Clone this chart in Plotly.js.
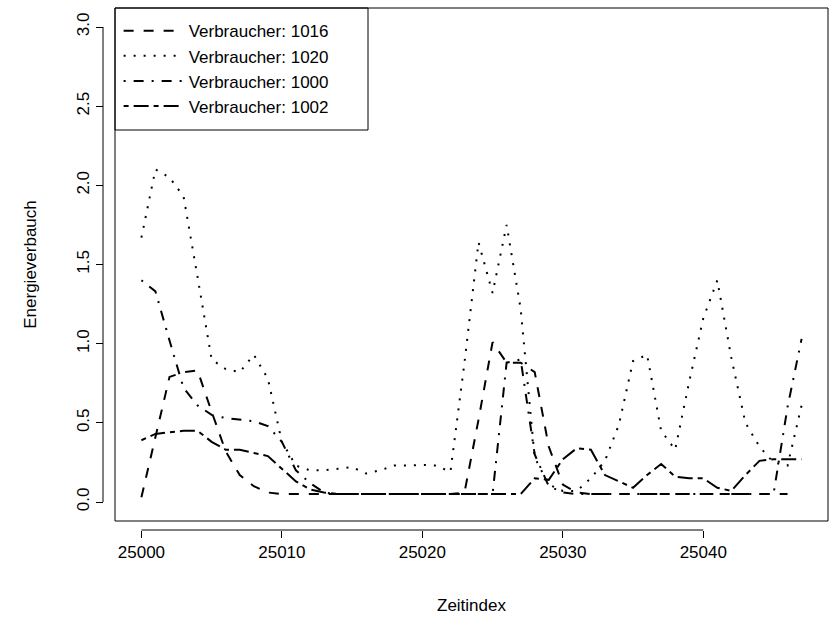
<!DOCTYPE html>
<html><head><meta charset="utf-8">
<script src="https://cdn.plot.ly/plotly-3.0.1.min.js"></script>
<style>html,body{margin:0;padding:0;background:#fff}</style>
</head><body><div id="chart" style="width:830px;height:622px"></div>
<script>
const zeitindex = [25000,25001,25002,25003,25004,25005,25006,25007,25008,25009,
  25010,25011,25012,25013,25014,25015,25016,25017,25018,25019,
  25020,25021,25022,25023,25024,25025,25026,25027,25028,25029,
  25030,25031,25032,25033,25034,25035,25036,25037,25038,25039,
  25040,25041,25042,25043,25044,25045,25046,25047];

const verbraucher1016 = [0.03,0.40,0.79,0.82,0.83,0.57,0.32,0.17,0.10,0.06,
  0.05,0.05,0.05,0.05,0.05,0.05,0.05,0.05,0.05,0.05,
  0.05,0.05,0.05,0.06,0.52,1.01,0.88,0.88,0.82,0.35,
  0.11,0.06,0.05,0.05,0.05,0.05,0.05,0.05,0.05,0.05,
  0.05,0.05,0.05,0.05,0.05,0.05,0.05,null];

const verbraucher1020 = [1.67,2.10,2.05,1.93,1.42,0.90,0.84,0.82,0.93,0.78,
  0.38,0.23,0.20,0.20,0.21,0.22,0.18,0.20,0.23,0.23,
  0.235,0.23,0.19,0.88,1.64,1.32,1.75,1.22,0.28,0.11,
  0.07,0.07,0.15,0.26,0.49,0.89,0.93,0.45,0.33,0.76,
  1.16,1.40,0.91,0.50,0.35,0.25,0.23,0.61];

const verbraucher1000 = [1.40,1.33,1.02,0.72,0.61,0.55,0.53,0.52,0.51,0.48,
  0.38,0.20,0.12,0.06,0.05,0.05,0.05,0.05,0.05,0.05,
  0.05,0.05,0.05,0.05,0.05,0.05,0.88,0.90,0.30,0.10,
  0.06,0.05,0.05,0.05,0.05,0.05,0.05,0.05,0.05,0.05,
  0.05,0.05,0.05,0.05,0.05,0.05,0.60,1.03];

const verbraucher1002 = [0.39,0.43,0.44,0.45,0.45,0.38,0.33,0.33,0.31,0.29,
  0.21,0.13,0.08,0.06,0.05,0.05,0.05,0.05,0.05,0.05,
  0.05,0.05,0.05,0.05,0.05,0.05,0.05,0.05,0.15,0.14,
  0.27,0.34,0.33,0.17,0.13,0.09,0.17,0.24,0.16,0.15,
  0.15,0.09,0.07,0.17,0.26,0.27,0.27,0.27];

const seriesNames = ["Verbraucher: 1016","Verbraucher: 1020","Verbraucher: 1000","Verbraucher: 1002"];
const xTicks = [25000,25010,25020,25030,25040];
const yTicks = [0,0.5,1,1.5,2,2.5,3];
const yTickLabels = ["0.0","0.5","1.0","1.5","2.0","2.5","3.0"];

const seriesValues = [verbraucher1016, verbraucher1020, verbraucher1000, verbraucher1002];
const dashes = ["10px,10px","2px,8px","2px,8px,10px,8px","5px,5px,15px,5px"];

const traces = seriesValues.map((vals, k) => ({
  type: "scatter", mode: "lines", x: zeitindex, y: vals, name: seriesNames[k],
  line: {color: "#000", width: 2, dash: dashes[k]}
}));

const font = "Liberation Sans, Arial, Helvetica, sans-serif";
const W = 830, H = 622, ML = 103, MR = 2, MT = 8, MB = 92;
const pw = W - ML - MR, ph = H - MT - MB;
const xd0 = 12 / pw, yd0 = 9 / ph;

const layout = {
  width: W, height: H,
  margin: {l: ML, r: MR, t: MT, b: MB},
  paper_bgcolor: "#fff", plot_bgcolor: "#fff",
  font: {family: font, size: 17, color: "#000"},
  showlegend: true,
  xaxis: {
    domain: [xd0, 1], range: [24998.12, 25048.88], anchor: "free", position: 0,
    tickvals: xTicks, ticktext: xTicks.map(String),
    ticks: "outside", ticklen: 7, tickwidth: 1, tickcolor: "#000",
    showline: false, showgrid: false, zeroline: false,
    tickfont: {family: font, size: 17},
    title: {text: "Zeitindex", font: {family: font, size: 17}, standoff: 37},
    automargin: false
  },
  yaxis: {
    domain: [yd0, 1], range: [-0.12, 3.12], anchor: "free", position: 0,
    tickvals: yTicks, ticktext: yTickLabels, tickangle: -90,
    ticks: "outside", ticklen: 7, tickwidth: 1, tickcolor: "#000",
    showline: false, showgrid: false, zeroline: false,
    tickfont: {family: font, size: 17},
    title: {text: "Energieverbauch", font: {family: font, size: 17}, standoff: 32},
    automargin: false
  },
  legend: {
    x: xd0 + 0.005, y: 0.99, xanchor: "left", yanchor: "top",
    bgcolor: "rgba(0,0,0,0)", borderwidth: 0,
    font: {family: font, size: 17}, itemwidth: 60, tracegroupgap: 0
  },
  shapes: [
    {type: "rect", xref: "paper", yref: "paper", x0: xd0, x1: 1, y0: yd0, y1: 1,
     line: {color: "#000", width: 1}, fillcolor: "rgba(0,0,0,0)", layer: "above"},
    {type: "rect", xref: "paper", yref: "paper", x0: xd0, x1: xd0 + 253 / pw, y0: 1 - 122 / ph, y1: 1,
     line: {color: "#000", width: 1}, fillcolor: "#fff", layer: "below"},
    {type: "line", xref: "x", yref: "paper", x0: xTicks[0], x1: xTicks[xTicks.length - 1], y0: 0, y1: 0,
     line: {color: "#000", width: 1}},
    {type: "line", xref: "paper", yref: "y", x0: 0, x1: 0, y0: yTicks[0], y1: yTicks[yTicks.length - 1],
     line: {color: "#000", width: 1}}
  ]
};

Plotly.newPlot("chart", traces, layout, {displayModeBar: false, staticPlot: true});
</script>
</body></html>
